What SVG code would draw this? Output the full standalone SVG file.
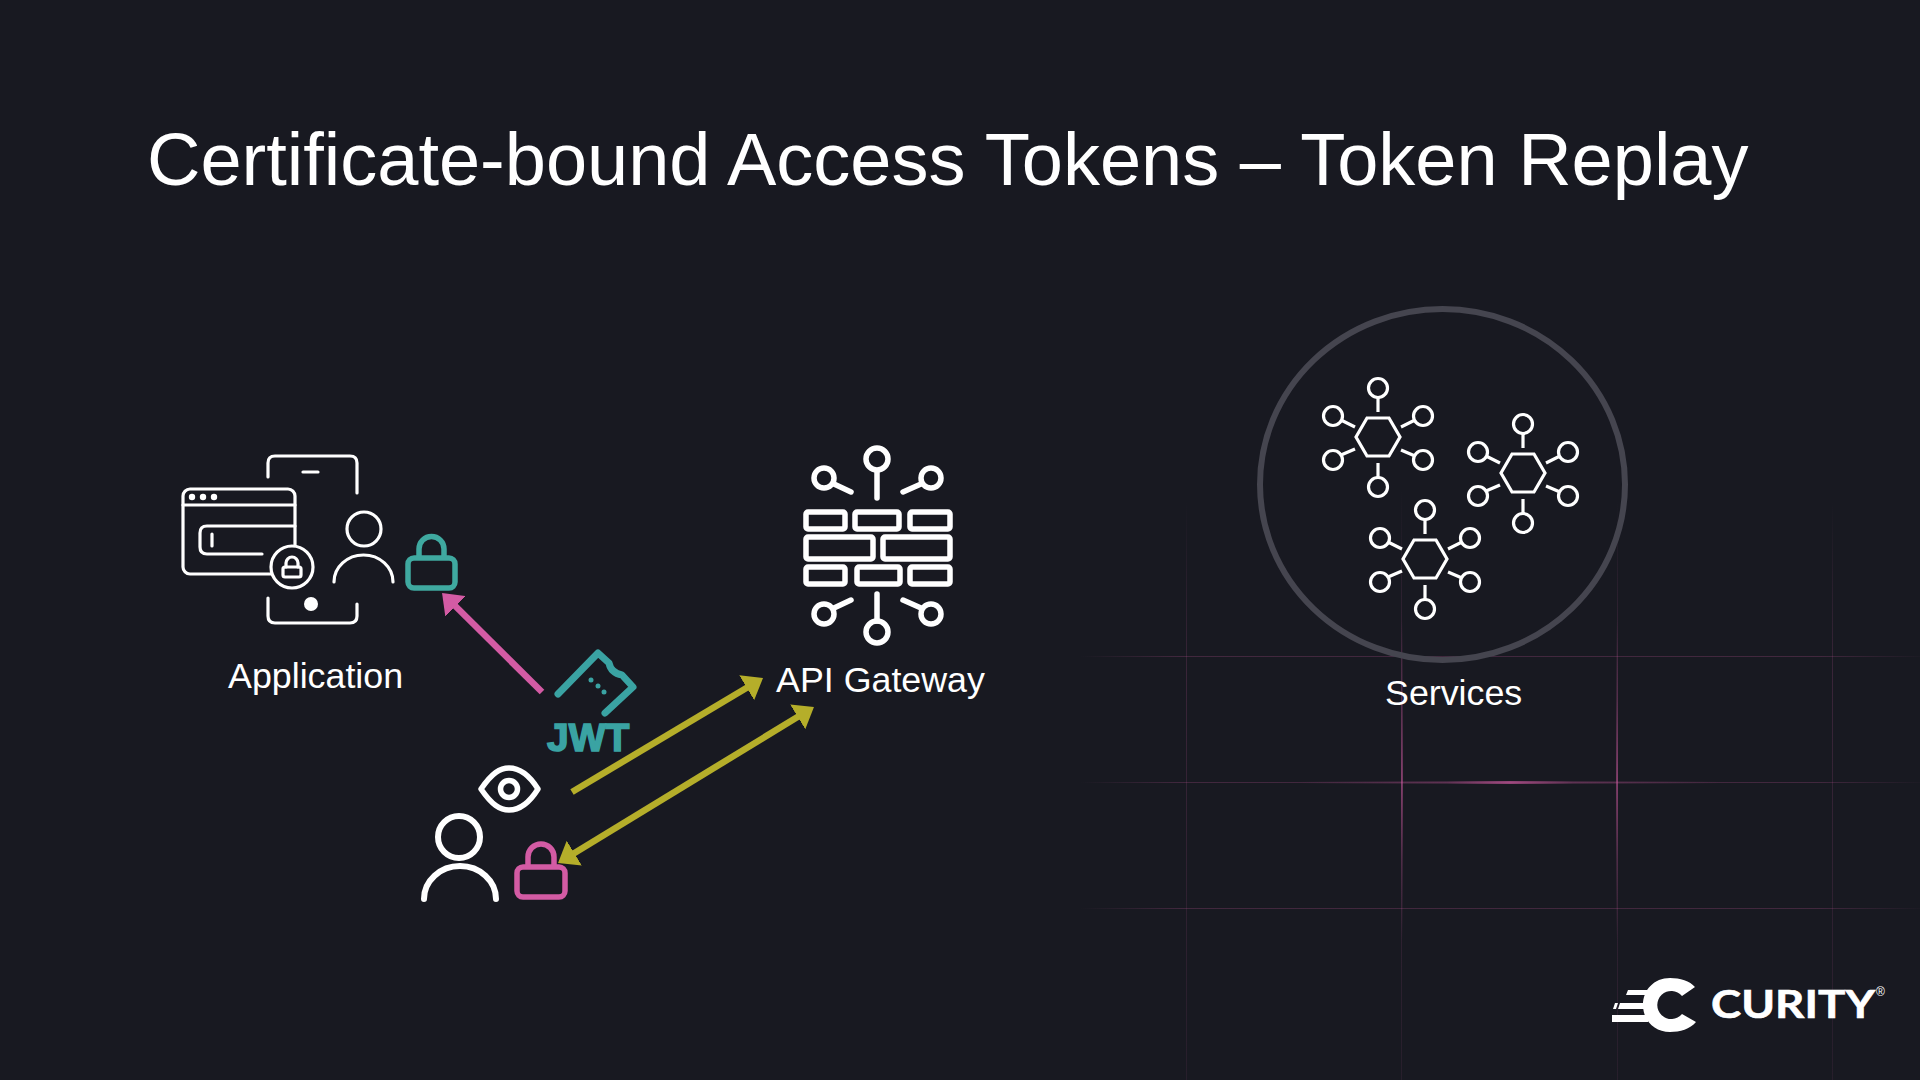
<svg xmlns="http://www.w3.org/2000/svg" xmlns:xlink="http://www.w3.org/1999/xlink" width="1920" height="1080" viewBox="0 0 1920 1080">
<style>
.label{font-family:"Liberation Sans",Arial,sans-serif;fill:#fff;font-size:35.8px}
.ln{fill:none;stroke:#fff;stroke-width:3.2;stroke-linecap:round;stroke-linejoin:round}
.gw{fill:none;stroke:#fff;stroke-width:5.5;stroke-linecap:round;stroke-linejoin:round}
.hx{fill:none;stroke:#fff;stroke-width:3.2}
.arr{fill:none;stroke-width:6.5;stroke-linecap:butt}
</style>
<defs>
<linearGradient id="gh"><stop offset="0" stop-color="#d35ba4" stop-opacity="0"/><stop offset=".12" stop-color="#d35ba4" stop-opacity=".22"/><stop offset=".88" stop-color="#d35ba4" stop-opacity=".22"/><stop offset="1" stop-color="#d35ba4" stop-opacity=".02"/></linearGradient>
<linearGradient id="gm"><stop offset="0" stop-color="#d35ba4" stop-opacity="0"/><stop offset=".35" stop-color="#d35ba4" stop-opacity=".2"/><stop offset=".5" stop-color="#d35ba4" stop-opacity=".65"/><stop offset=".65" stop-color="#d35ba4" stop-opacity=".2"/><stop offset="1" stop-color="#d35ba4" stop-opacity="0"/></linearGradient>
<linearGradient id="gv" x1="0" y1="0" x2="0" y2="1"><stop offset="0" stop-color="#d35ba4" stop-opacity="0"/><stop offset=".3" stop-color="#d35ba4" stop-opacity=".18"/><stop offset="1" stop-color="#d35ba4" stop-opacity=".08"/></linearGradient>
<linearGradient id="gb" x1="0" y1="0" x2="0" y2="1"><stop offset="0" stop-color="#d35ba4" stop-opacity="0"/><stop offset=".25" stop-color="#d35ba4" stop-opacity=".18"/><stop offset=".5" stop-color="#d35ba4" stop-opacity=".5"/><stop offset=".75" stop-color="#d35ba4" stop-opacity=".18"/><stop offset="1" stop-color="#d35ba4" stop-opacity="0"/></linearGradient>
<marker id="mo" markerUnits="userSpaceOnUse" markerWidth="19" markerHeight="29" refX="5" refY="14.5" orient="auto-start-reverse"><path d="M0 0L19 14.5L0 29Z" fill="#b5ae2a"/></marker>
<marker id="mp" markerUnits="userSpaceOnUse" markerWidth="19" markerHeight="29" refX="5" refY="14.5" orient="auto"><path d="M0 0L19 14.5L0 29Z" fill="#d35ba4"/></marker>
<g id="hex">
<path class="hx" d="M-22 0L-11-19H11L22 0L11 19H-11Z"/>
<circle class="hx" cx="0" cy="-49" r="9.5"/><path class="hx" d="M0-39.500V-25"/>
<circle class="hx" cx="0" cy="50" r="9.500"/><path class="hx" d="M0 26V40.500"/>
<circle class="hx" cx="-45" cy="-21" r="9.500"/><path class="hx" d="M-37-17L-23-10"/>
<circle class="hx" cx="45" cy="-21" r="9.500"/><path class="hx" d="M37-17L23-10"/>
<circle class="hx" cx="-45" cy="23" r="9.500"/><path class="hx" d="M-37 18L-23 12"/>
<circle class="hx" cx="45" cy="23" r="9.500"/><path class="hx" d="M37 19L23 13"/>
</g>
</defs>
<rect width="1920" height="1080" fill="#181921"/>
<g id="grid">
<rect x="1080" y="656" width="840" height="1" fill="url(#gh)"/>
<rect x="1080" y="782" width="840" height="1" fill="url(#gh)"/>
<rect x="1300" y="781" width="420" height="3" fill="url(#gm)"/>
<rect x="1080" y="908" width="840" height="1" fill="url(#gh)"/>
<rect x="1186" y="500" width="1" height="580" fill="url(#gv)"/>
<rect x="1401" y="490" width="1" height="590" fill="url(#gv)"/>
<rect x="1401" y="620" width="2" height="320" fill="url(#gb)"/>
<rect x="1617" y="500" width="1" height="580" fill="url(#gv)"/>
<rect x="1616" y="620" width="2" height="320" fill="url(#gb)"/>
<rect x="1832" y="500" width="1" height="580" fill="url(#gv)"/>
</g>
<text id="title" x="147" y="185" font-family="'Liberation Sans',Arial,sans-serif" font-size="74" fill="#fff">Certificate-bound Access Tokens – Token Replay</text>
<g id="application">
<path class="ln" d="M268 477V463Q268 456 275 456H350Q357 456 357 463V493"/>
<path class="ln" d="M268 598V616Q268 623 275 623H350Q357 623 357 616V604"/>
<path class="ln" d="M303 472H318"/>
<circle cx="311" cy="604" r="7" fill="#fff"/>
<rect class="ln" x="183" y="489" width="112" height="85" rx="7"/>
<path class="ln" d="M183 505H295"/>
<circle cx="192" cy="497" r="3.200" fill="#fff"/><circle cx="203" cy="497" r="3.200" fill="#fff"/><circle cx="214" cy="497" r="3.200" fill="#fff"/>
<path class="ln" d="M295 526H207Q200 526 200 533V547Q200 554 207 554H262"/>
<path class="ln" d="M212 534V546"/>
<circle class="ln" cx="292" cy="567" r="21" style="fill:#181921"/>
<rect class="ln" x="283" y="567" width="18" height="10" rx="2"/>
<path class="ln" d="M286 567V563A6 6 0 0 1 298 563V567"/>
<circle class="ln" cx="364" cy="529" r="17"/>
<path class="ln" d="M334 582A29.500 27 0 0 1 393 582"/>
<text class="label" x="228" y="688">Application</text>
</g>
<g id="teal-lock" fill="none" stroke="#3fa9a0" stroke-width="5.500" stroke-linejoin="round">
<rect x="408" y="558" width="47" height="30" rx="6"/>
<path d="M419 558V549A12.500 12.500 0 0 1 444 549V558"/>
</g>
<g id="jwt">
<path d="M558 694L598 653L609 663Q611 673 622 675L633 687L605 713" fill="none" stroke="#3aa3a3" stroke-width="7" stroke-linecap="round" stroke-linejoin="round"/>
<circle cx="591" cy="680" r="2.500" fill="#3aa3a3"/><circle cx="598" cy="686" r="2.500" fill="#3aa3a3"/><circle cx="604" cy="692" r="2.500" fill="#3aa3a3"/>
<text x="547" y="751" font-family="'Liberation Sans',Arial,sans-serif" font-weight="700" font-size="39" fill="#3aa3a3" stroke="#3aa3a3" stroke-width="1.600">JWT</text>
</g>
<g id="user">
<path d="M481 789C492 773 500 768 509 768C518 768 528 773 538 789C528 805 518 810 509 810C500 810 492 805 481 789Z" fill="none" stroke="#fff" stroke-width="5.500" stroke-linejoin="round"/>
<circle cx="509" cy="789" r="8.500" fill="none" stroke="#fff" stroke-width="5.500"/>
<circle cx="459" cy="837" r="21" fill="none" stroke="#fff" stroke-width="6"/>
<path d="M424 899A36 33 0 0 1 496 899" fill="none" stroke="#fff" stroke-width="6" stroke-linecap="round"/>
</g>
<g id="pink-lock" fill="none" stroke="#d35ba4" stroke-width="5.500" stroke-linejoin="round">
<rect x="517" y="867" width="48" height="30" rx="6"/>
<path d="M528 867V857A13 13 0 0 1 554 857V867"/>
</g>
<g id="api-gateway">
<circle class="gw" cx="877" cy="459" r="11"/><path class="gw" d="M877 471V498"/>
<circle class="gw" cx="824" cy="478" r="10"/><path class="gw" d="M834 484L851 492"/>
<circle class="gw" cx="931" cy="478" r="10"/><path class="gw" d="M921 484L903 492"/>
<circle class="gw" cx="877" cy="632" r="11"/><path class="gw" d="M877 594V621"/>
<circle class="gw" cx="824" cy="614" r="10"/><path class="gw" d="M834 608L851 600"/>
<circle class="gw" cx="931" cy="614" r="10"/><path class="gw" d="M921 608L903 600"/>
<rect class="gw" x="806" y="512" width="39" height="17" rx="2"/>
<rect class="gw" x="855" y="512" width="44" height="17" rx="2"/>
<rect class="gw" x="910" y="512" width="40" height="17" rx="2"/>
<rect class="gw" x="806" y="537" width="67" height="22" rx="2"/>
<rect class="gw" x="883" y="537" width="67" height="22" rx="2"/>
<rect class="gw" x="806" y="567" width="39" height="17" rx="2"/>
<rect class="gw" x="857" y="567" width="43" height="17" rx="2"/>
<rect class="gw" x="910" y="567" width="40" height="17" rx="2"/>
<text class="label" x="776" y="692">API Gateway</text>
</g>
<g id="services">
<ellipse cx="1442.500" cy="484.500" rx="182.500" ry="175.500" fill="none" stroke="#45454f" stroke-width="6"/>
<use xlink:href="#hex" href="#hex" x="1378" y="437"/>
<use xlink:href="#hex" href="#hex" x="1523" y="473"/>
<use xlink:href="#hex" href="#hex" x="1425" y="559"/>
<text class="label" x="1385" y="705">Services</text>
</g>
<g id="connectors">
<path class="arr" stroke="#d35ba4" d="M542 692L452 602.800" marker-end="url(#mp)"/>
<path class="arr" stroke="#b5ae2a" d="M572 792L751 685.200" marker-end="url(#mo)"/>
<path class="arr" stroke="#b5ae2a" d="M570 855.700L802 714.300" marker-start="url(#mo)" marker-end="url(#mo)"/>
</g>
<g id="logo" fill="#fff">
<path d="M1695 987C1690 981 1680 978 1670 978C1654 978 1643 990 1643 1005C1643 1020 1654 1032 1670 1032C1680 1032 1690 1029 1696 1022L1682 1014A14 14 0 1 1 1682 996Z"/>
<path d="M1628 990H1650V995H1626ZM1620 1003H1648V1009H1618ZM1615 1003H1618L1616 1009H1613ZM1612 1015H1648V1022H1612Z"/>
<text x="1711" y="1018" font-family="Lato,'Open Sans',sans-serif" font-weight="700" font-size="38" stroke="#fff" stroke-width=".6" textLength="164" lengthAdjust="spacingAndGlyphs">CURITY</text>
<text x="1876" y="996" font-family="'Liberation Sans',Arial,sans-serif" font-size="12">®</text>
</g>
</svg>
